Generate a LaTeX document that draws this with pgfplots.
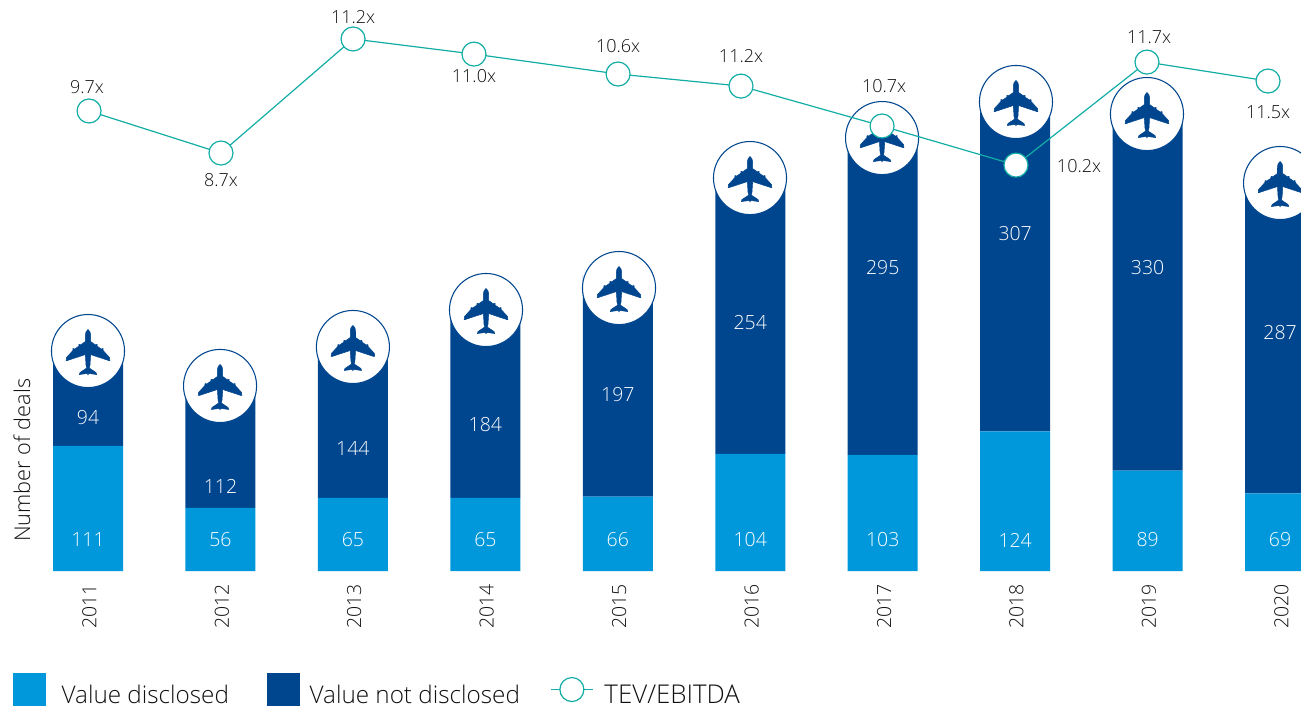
\documentclass[border=0pt]{standalone}
\usepackage{fontspec}
\setmainfont{Open Sans Light}
\usepackage{pgfplots}
\pgfplotsset{compat=1.18}
\definecolor{lblue}{HTML}{0098DB}
\definecolor{navy}{HTML}{00468F}
\definecolor{teal2}{HTML}{12ADA5}
\definecolor{ink}{HTML}{111111}
\pgfdeclareplotmark{plane}{%
  \fill[navy,x=0.75pt,y=0.75pt]
    (0,21.5) .. controls (1.6,21) and (2.5,18.5) .. (2.6,15) -- (2.6,9.5)
    -- (7.8,5.8) -- (8,6.6) -- (9,6.6) -- (9.2,4.8)
    -- (13.8,1.6) -- (14,2.4) -- (15,2.4) -- (15.2,0.4)
    -- (21.5,-6.5) -- (21.8,-9.5) -- (20.8,-9.5) -- (2.6,-3.5)
    -- (2,-14) -- (1.2,-17) -- (8,-21.5) -- (8.6,-23.5) -- (0.6,-22.4) -- (0,-23.8)
    -- (-0.6,-22.4) -- (-8.6,-23.5) -- (-8,-21.5) -- (-1.2,-17) -- (-2,-14)
    -- (-2.6,-3.5) -- (-20.8,-9.5) -- (-21.8,-9.5) -- (-21.5,-6.5)
    -- (-15.2,0.4) -- (-15,2.4) -- (-14,2.4) -- (-13.8,1.6)
    -- (-9.2,4.8) -- (-9,6.6) -- (-8,6.6) -- (-7.8,5.8)
    -- (-2.6,9.5) -- (-2.6,15) .. controls (-2.5,18.5) and (-1.6,21) .. (0,21.5) -- cycle;
}
\pgfdeclareplotmark{barcap}{%
  \fill[white,x=0.75pt,y=0.75pt] (-36,0) rectangle (36,37);
}
\pgfplotsset{base/.style={
  at={(0pt,102.75pt)}, anchor=south west, scale only axis,
  width=975.75pt, height=428.25pt,
  xmin=-0.6644, xmax=9.158, ymin=0, ymax=506.7, clip=true}}
\begin{document}
\begin{tikzpicture}
\path[use as bounding box] (0,0) rectangle (975.75pt,531pt);
\begin{axis}[base, ybar stacked, bar width=52.5pt,
  axis line style={draw=none}, major tick style={draw=none},
  ytick=\empty, xtick={0,...,9},
  xticklabels={2011,2012,2013,2014,2015,2016,2017,2018,2019,2020},
  x tick label style={rotate=90, anchor=east, font=\fontsize{14.6}{15}\selectfont, text=ink, yshift=-1pt, xshift=-6.5pt},
  ylabel={Number of deals},
  every axis y label/.style={at={(axis description cs:0.0169,0.194)},rotate=90,anchor=center,font=\fontsize{16.3}{17}\selectfont,text=ink},
  legend style={at={(axis description cs:0.01,-0.2195)}, anchor=west, draw=none, fill=none, inner sep=0pt, outer sep=0pt,
    font=\fontsize{18.2}{19}\selectfont, text=ink, nodes={inner sep=0pt, outer sep=0pt},
    /tikz/column 1/.style={column sep=12pt},
    /tikz/column 2/.style={column sep=28.5pt},
    /tikz/column 3/.style={column sep=7.5pt},
    /tikz/column 4/.style={column sep=22.5pt},
    /tikz/column 5/.style={column sep=8pt}},
  legend columns=3, legend cell align=left,
]
\addplot[fill=lblue, draw=none, legend image code/.code={\fill[lblue] (0,-2.25pt) rectangle (24.5pt,22.5pt);}]
  coordinates {(0,111) (1,56) (2,65) (3,65) (4,66) (5,104) (6,103) (7,124) (8,89) (9,69)};
\addlegendentry{\raisebox{11pt}{Value disclosed}}
\addplot[fill=navy, draw=none, legend image code/.code={\fill[navy] (0,-2.25pt) rectangle (24.5pt,22.5pt);}]
  coordinates {(0,94) (1,112) (2,144) (3,184) (4,197) (5,254) (6,295) (7,307) (8,330) (9,287)};
\addlegendentry{\raisebox{11pt}{Value not disclosed}}
\addlegendimage{legend image code/.code={
  \draw[teal2,line width=0.9pt] (0,9.75pt) -- (32pt,9.75pt);
  \draw[teal2,fill=white,line width=0.9pt] (16pt,9.75pt) circle (9pt);}}
\addlegendentry{\raisebox{11pt}{\fontsize{19.4}{20}\selectfont TEV/EBITDA}}
\end{axis}
\begin{axis}[base, hide axis]
% white caps and discs that carry the aircraft icon
\addplot[only marks, mark=barcap]
  coordinates {(0,195.2) (0.997,164.2) (2,198.8) (3.005,231.6) (4.009,251.1) (4.998,348.7) (5.995,384.2) (7.006,416.2) (7.995,405.5) (9,344.3)};
\addplot[only marks, mark=*, mark size=27.4pt, mark options={fill=white, draw=navy, line width=0.8pt}]
  coordinates {(0,195.2) (0.997,164.2) (2,198.8) (3.005,231.6) (4.009,251.1) (4.998,348.7) (5.995,384.2) (7.006,416.2) (7.995,405.5) (9,344.3)};
\addplot[only marks, mark=plane]
  coordinates {(0,195.2) (0.997,164.2) (2,198.8) (3.005,231.6) (4.009,251.1) (4.998,348.7) (5.995,384.2) (7.006,416.2) (7.995,405.5) (9,344.3)};
% value labels inside the bars
\addplot[draw=none, mark=none, nodes near coords, point meta=explicit symbolic,
  every node near coord/.style={anchor=center, inner sep=0pt, text=white, font=\fontsize{14.6}{15}\selectfont}]
  table[meta=label] {
x y label
0 27.5 111
1 27.5 56
2 27.5 65
3 27.5 65
4 27.5 66
5 27.5 104
6 27.5 103
7 27.5 124
8 27.5 89
9 27.5 69
0 135.8 94
1 75.4 112
2 109.1 144
3 130.4 184
4 157 197
5 220.9 254
6 269.7 295
7 299.9 307
8 269.7 330
9 211.2 287
};
\end{axis}
\begin{axis}[base, hide axis]
% TEV/EBITDA line
\addplot[teal2, line width=0.9pt, mark=*, mark size=9pt, mark options={fill=white, draw=teal2, line width=0.9pt}]
  coordinates {(0.008,408.2) (1.004,370.9) (2.001,472.1) (2.914,458.7) (4.002,441) (4.93,430.3) (5.995,394.9) (7.006,360.2) (7.995,451.6) (8.909,434.8)};
\addplot[draw=none, mark=none, nodes near coords, point meta=explicit symbolic,
  every node near coord/.style={anchor=center, inner sep=0pt, text=ink, font=\fontsize{13.5}{14}\selectfont}]
  table[meta=label] {
x y label
-0.008 429 9.7x
1.004 346.9 8.7x
2.001 491.6 11.2x
2.914 439.2 11.0x
4.002 465.8 10.6x
4.93 457 11.2x
6.01 430.4 10.7x
7.482 359.4 10.2x
8.011 473.8 11.7x
8.909 407.3 11.5x
};
\end{axis}
\end{tikzpicture}
\end{document}
